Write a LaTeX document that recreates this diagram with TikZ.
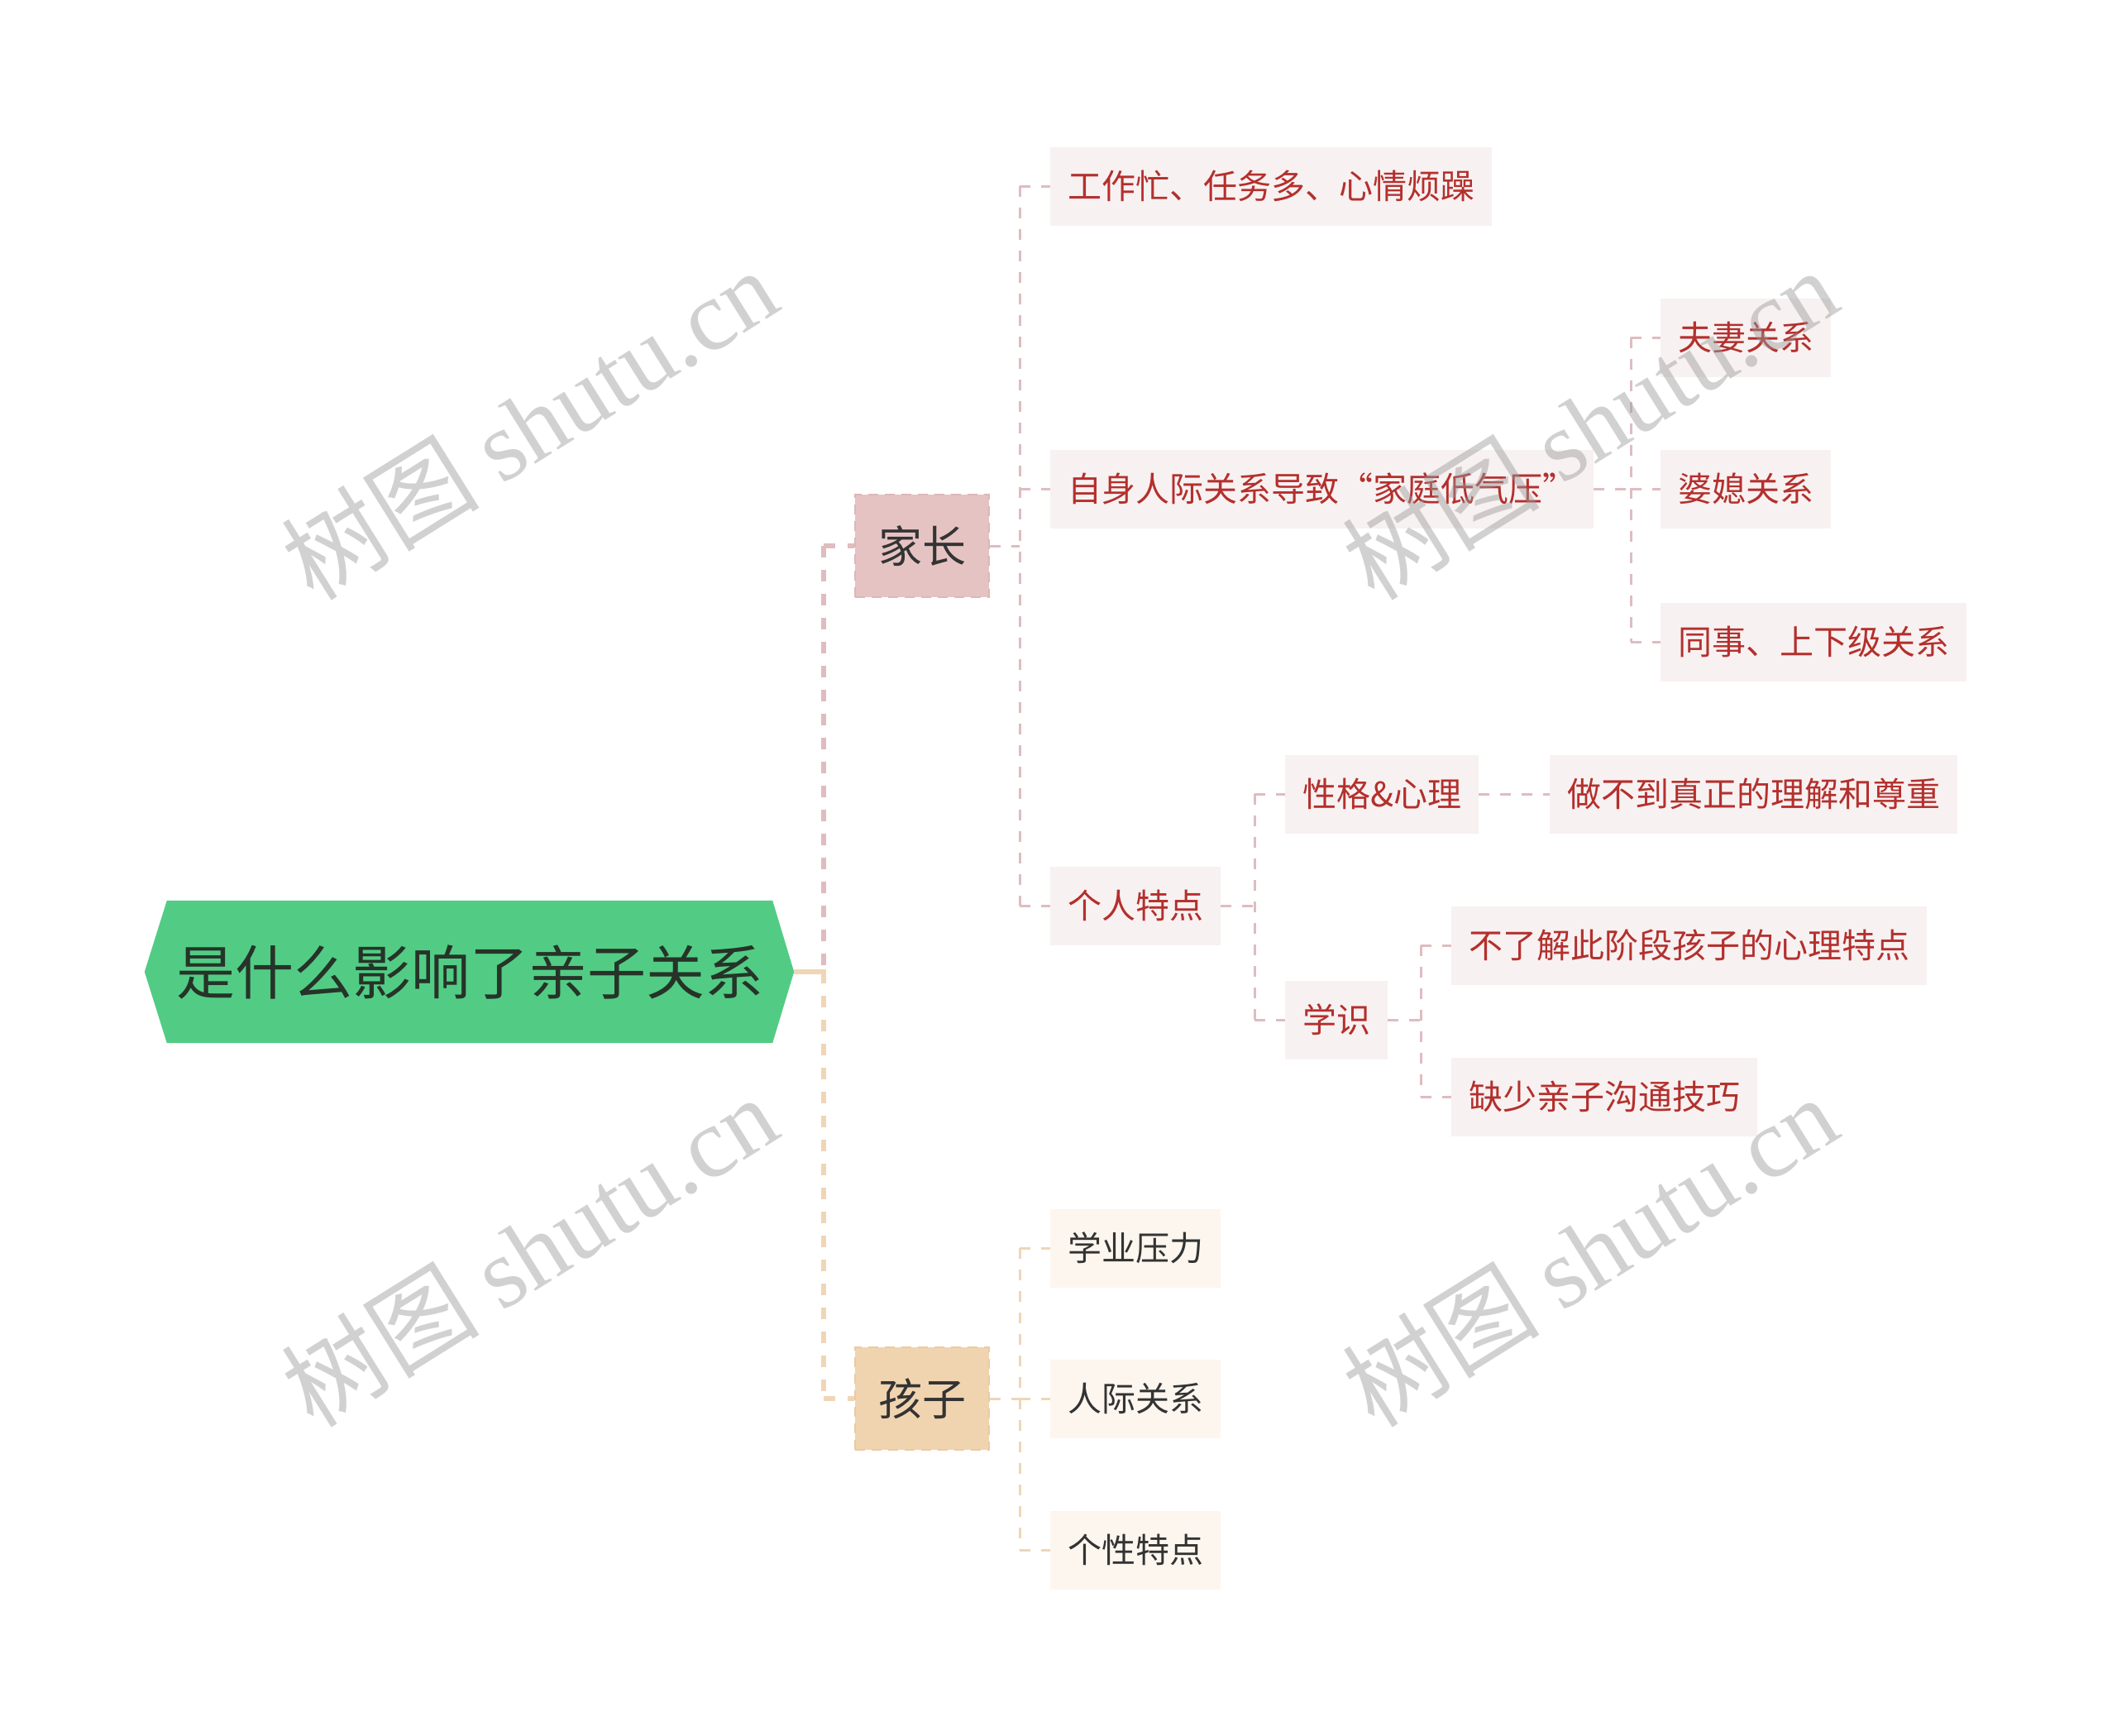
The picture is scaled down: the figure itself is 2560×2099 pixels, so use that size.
\documentclass[tikz,border=0pt]{standalone}
\usepackage{fontspec}
\setmainfont{Noto Sans CJK SC}
\newfontfamily\wmlatin{Liberation Serif}
\newfontfamily\wmcjk{Noto Sans CJK SC}
\definecolor{rootgreen}{HTML}{52CC84}
\definecolor{roottext}{HTML}{263328}
\definecolor{pinkfill}{HTML}{E6C3C3}
\definecolor{pinkborder}{HTML}{DDB7B7}
\definecolor{tanfill}{HTML}{F0D4AF}
\definecolor{tanborder}{HTML}{EACBA3}
\definecolor{leafpink}{HTML}{F8F1F1}
\definecolor{leafcream}{HTML}{FCF6EF}
\definecolor{redtext}{HTML}{B3302D}
\definecolor{darktext}{HTML}{333333}
\definecolor{pinkline}{HTML}{DFBCC0}
\definecolor{tanline}{HTML}{EFD6B7}
\definecolor{wmgray}{HTML}{9A9A9A}
\tikzset{
  lvone/.style={rectangle, minimum height=124pt, inner xsep=28pt, anchor=west,
    font=\fontsize{53}{53}\selectfont, text=darktext, line width=2pt,
    dash pattern=on 12pt off 8pt},
  pinkone/.style={lvone, fill=pinkfill, draw=pinkborder},
  tanone/.style={lvone, fill=tanfill, draw=tanborder},
  leaf/.style={rectangle, minimum height=95pt, inner xsep=21pt, anchor=west,
    font=\fontsize{41}{41}\selectfont},
  pleaf/.style={leaf, fill=leafpink, text=redtext},
  cleaf/.style={leaf, fill=leafcream, text=darktext},
  pconn/.style={draw=pinkline, line width=3pt, dash pattern=on 13pt off 13pt},
  tconn/.style={draw=tanline, line width=3pt, dash pattern=on 13pt off 13pt},
  ptrunk/.style={draw=pinkline, line width=5.5pt, dash pattern=on 14pt off 15pt},
  ttrunk/.style={draw=tanline, line width=5.5pt, dash pattern=on 14pt off 15pt},
  wm/.style={text=wmgray, opacity=0.45, rotate=32, font=\fontsize{120}{120}\selectfont}
}
\begin{document}
\begin{tikzpicture}[x=1pt,y=-1pt]
\useasboundingbox[fill=white] (0,0) rectangle (2560,2099);

% root
\node[minimum width=732pt, minimum height=172pt, inner sep=0pt] (root) at (568,1175) {};
\fill[rootgreen] (root.north west) -- (root.north east) -- ([xshift=26pt]root.east)
  -- (root.south east) -- (root.south west) -- ([xshift=-27pt]root.west) -- cycle;
\node[text=roottext, font=\fontsize{71}{71}\selectfont] (roottxt) at (root.center) {是什么影响了亲子关系};
\coordinate (rootR) at ([xshift=26pt]root.east);

% first level
\node[pinkone] (jz) at (1033,660) {家长};
\node[tanone] (hz) at (1033,1691) {孩子};

\coordinate (trunk) at (996,1175);
\draw[ptrunk] (trunk |- jz.west) -- (trunk);
\draw[ttrunk] (trunk) -- (trunk |- hz.west);
\draw[ptrunk] (trunk |- jz.west) -- (jz.west);
\draw[ttrunk] (trunk |- hz.west) -- (hz.west);
\draw[tanline, line width=6pt] (rootR) -- ([xshift=3pt]trunk);

% parent children
\node[pleaf] (a1) at (1270,225) {工作忙、任务多、心情烦躁};
\node[pleaf] (a2) at (1270,591) {自身人际关系导致“家庭低气压”};
\node[pleaf] (a3) at (1270,1095) {个人特点};
\coordinate (sA) at (1233,660);
\draw[pconn] (sA |- a1.west) -- (sA |- a3.west);
\draw[pconn] (jz.east) -- (sA |- jz.east);
\draw[pconn] (sA |- a1.west) -- (a1.west);
\draw[pconn] (sA |- a2.west) -- (a2.west);
\draw[pconn] (sA |- a3.west) -- (a3.west);

% a2 children
\node[pleaf] (b1) at (2008,408) {夫妻关系};
\node[pleaf] (b2) at (2008,591) {婆媳关系};
\node[pleaf] (b3) at (2008,776) {同事、上下级关系};
\coordinate (sB) at (1972,591);
\draw[pconn] (sB |- b1.west) -- (sB |- b3.west);
\draw[pconn] (a2.east) -- (sB |- a2.east);
\draw[pconn] (sB |- b1.west) -- (b1.west);
\draw[pconn] (sB |- b2.west) -- (b2.west);
\draw[pconn] (sB |- b3.west) -- (b3.west);

% a3 children
\node[pleaf] (c1) at (1554,960) {性格\&心理};
\node[pleaf] (c2) at (1554,1233) {学识};
\coordinate (sC) at (1517,1095);
\draw[pconn] (sC |- c1.west) -- (sC |- c2.west);
\draw[pconn] (a3.east) -- (sC |- a3.east);
\draw[pconn] (sC |- c1.west) -- (c1.west);
\draw[pconn] (sC |- c2.west) -- (c2.west);

\node[pleaf] (d1) at (1874,960) {做不到真正的理解和尊重};
\draw[pconn] (c1.east) -- (d1.west);

\node[pleaf] (e1) at (1755,1143) {不了解此阶段孩子的心理特点};
\node[pleaf] (e2) at (1755,1326) {缺少亲子沟通技巧};
\coordinate (sE) at (1718,1233);
\draw[pconn] (sE |- e1.west) -- (sE |- e2.west);
\draw[pconn] (c2.east) -- (sE |- c2.east);
\draw[pconn] (sE |- e1.west) -- (e1.west);
\draw[pconn] (sE |- e2.west) -- (e2.west);

% child children
\node[cleaf] (f1) at (1270,1509) {学业压力};
\node[cleaf] (f2) at (1270,1691) {人际关系};
\node[cleaf] (f3) at (1270,1874) {个性特点};
\coordinate (sF) at (1233,1691);
\draw[tconn] (sF |- f1.west) -- (sF |- f3.west);
\draw[tconn] (hz.east) -- (sF |- hz.east);
\draw[tconn] (sF |- f1.west) -- (f1.west);
\draw[tconn] (sF |- f2.west) -- (f2.west);
\draw[tconn] (sF |- f3.west) -- (f3.west);

% watermarks
\node[wm] (w1) at (640,512) {{\wmcjk 树图} {\wmlatin shutu.cn}};
\node[wm] (w2) at (640,1512) {{\wmcjk 树图} {\wmlatin shutu.cn}};
\node[wm] (w3) at (1922,512) {{\wmcjk 树图} {\wmlatin shutu.cn}};
\node[wm] (w4) at (1922,1512) {{\wmcjk 树图} {\wmlatin shutu.cn}};
\end{tikzpicture}
\end{document}
